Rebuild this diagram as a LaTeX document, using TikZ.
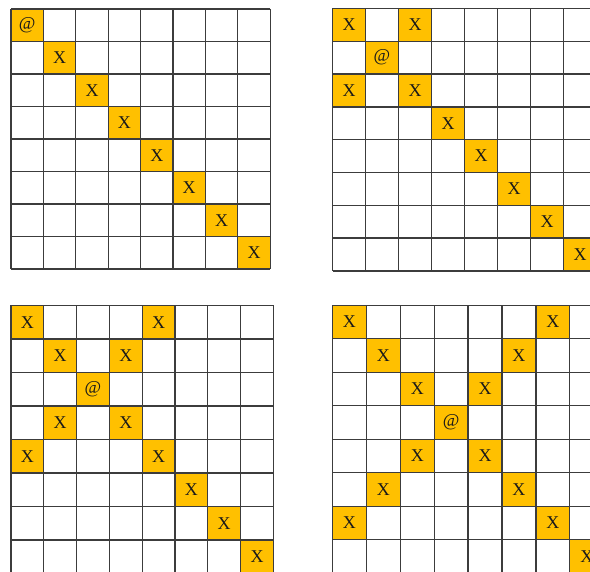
\documentclass[tikz,border=0pt]{standalone}
\usepackage{fontspec}
\setmainfont{Liberation Serif}
\definecolor{cellyellow}{HTML}{FFC000}
\definecolor{gridline}{HTML}{3C3C3C}
\definecolor{marktext}{HTML}{1A1A1A}
\tikzset{
  hitcell/.style={fill=cellyellow},
  gridstroke/.style={draw=gridline, line width=1.3pt},
  cellmark/.style={inner sep=0pt, text=marktext, font=\fontsize{18}{18}\selectfont},
}
% #1 name prefix, #2 x0, #3 y0, #4 cell width, #5 cell height, #6 list col/row/text
\newcommand\drawboard[6]{%
  \begin{scope}[shift={(#2pt,-#3pt)}, x=#4pt, y=-#5pt]
    \foreach \c/\r/\t [count=\i] in {#6} {
      \fill[hitcell] (\c,\r) rectangle ++(1,1);
      \node[cellmark] (#1-\i) at (\c+0.5,\r+0.5) {\t};
    }
    \foreach \k in {0,...,8} {
      \draw[gridstroke] (\k,0) -- (\k,8);
      \draw[gridstroke] (0,\k) -- (8,\k);
    }
  \end{scope}
}
\begin{document}
\begin{tikzpicture}[x=1pt, y=-1pt]
  \useasboundingbox (0,0) rectangle (590,572);
  \clip (0,0) rectangle (590,572);
  \fill[white] (0,0) rectangle (590,572);
  \drawboard{tl}{11}{9}{32.4}{32.5}{0/0/@,1/1/X,2/2/X,3/3/X,4/4/X,5/5/X,6/6/X,7/7/X}
  \drawboard{tr}{332.5}{8.5}{33}{32.8}{0/0/X,2/0/X,1/1/@,0/2/X,2/2/X,3/3/X,4/4/X,5/5/X,6/6/X,7/7/X}
  \drawboard{bl}{11}{305.5}{32.8}{33.5}{0/0/X,4/0/X,1/1/X,3/1/X,2/2/@,1/3/X,3/3/X,0/4/X,4/4/X,5/5/X,6/6/X,7/7/X}
  \drawboard{br}{332.5}{305.2}{33.9}{33.5}{0/0/X,6/0/X,1/1/X,5/1/X,2/2/X,4/2/X,3/3/@,2/4/X,4/4/X,1/5/X,5/5/X,0/6/X,6/6/X,7/7/X}
\end{tikzpicture}
\end{document}
